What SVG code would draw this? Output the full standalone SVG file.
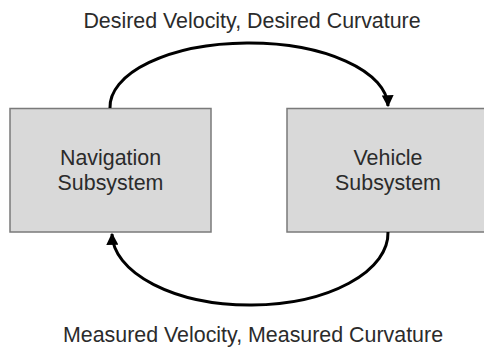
<svg xmlns="http://www.w3.org/2000/svg" width="484" height="352" viewBox="0 0 484 352">
<style>
.box{fill:#d9d9d9;stroke:#7a7a7a;stroke-width:1.5}
.t{font-family:"Liberation Sans",Arial,sans-serif;font-size:21.4px;fill:#2b2b2b;text-anchor:middle}
.c{fill:none;stroke:#000;stroke-width:3}
</style>
<defs>
<marker id="ah" viewBox="0 0 10 10" refX="9" refY="5" markerWidth="4" markerHeight="4" orient="auto" markerUnits="strokeWidth">
<path d="M0 0 L10 5 L0 10 Z" fill="#000"/>
</marker>
</defs>
<text class="t" x="252" y="28">Desired Velocity, Desired Curvature</text>
<text class="t" x="253" y="342">Measured Velocity, Measured Curvature</text>
<g id="navigation">
<rect class="box" x="10" y="108.5" width="201" height="123.5"/>
<text class="t" x="110.5" y="165">Navigation</text>
<text class="t" x="110.5" y="189.5">Subsystem</text>
</g>
<g id="vehicle">
<rect class="box" x="287" y="108.5" width="202" height="123.5"/>
<text class="t" x="388" y="165">Vehicle</text>
<text class="t" x="388" y="189.5">Subsystem</text>
</g>
<g id="connectors">
<path class="c" d="M110 108 A139 64 0 0 1 388 106" marker-end="url(#ah)"/>
<path class="c" d="M388 232 A138 72 0 0 1 112 234" marker-end="url(#ah)"/>
</g>
</svg>
